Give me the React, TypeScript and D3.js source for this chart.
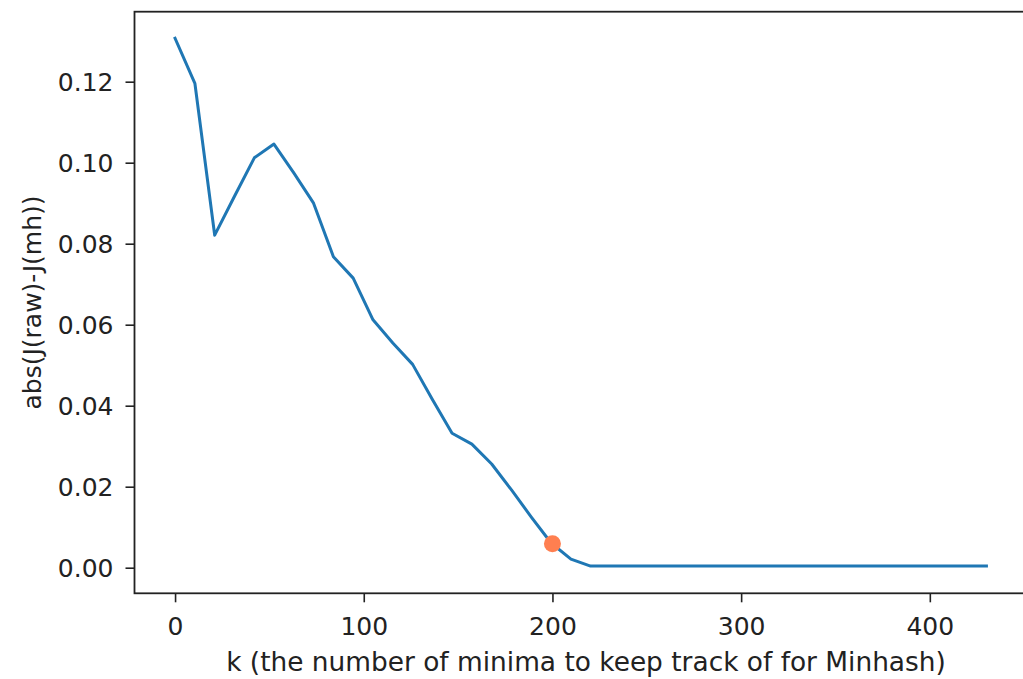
import React, { useEffect, useRef } from 'react';
import * as d3 from 'd3';

// k values (x)
const kValues = [
  0, 10.5, 21, 31.5, 42, 52.4, 63, 73.4, 83.9, 94.4,
  104.9, 115.4, 125.9, 136.3, 146.8, 157.3, 167.8, 178.3, 188.8, 199.3,
  209.8, 220.2, 230.7, 241.2, 251.7, 262.2, 272.7, 283.2, 293.7, 304.1,
  314.6, 325.1, 335.6, 346.1, 356.6, 367.1, 377.6, 388, 398.5, 409,
  419.5, 430,
];

// abs(J(raw)-J(mh)) for each k
const errValues = [
  0.1307, 0.1196, 0.0821, 0.0917, 0.1012, 0.1046, 0.0974, 0.09, 0.0768, 0.0715,
  0.0612, 0.0555, 0.0502, 0.0416, 0.0332, 0.0305, 0.0256, 0.0192, 0.0125, 0.0061,
  0.0021, 0.0004, 0.0004, 0.0004, 0.0004, 0.0004, 0.0004, 0.0004, 0.0004, 0.0004,
  0.0004, 0.0004, 0.0004, 0.0004, 0.0004, 0.0004, 0.0004, 0.0004, 0.0004, 0.0004,
  0.0004, 0.0004,
];

// highlighted point
const markK = [200];
const markErr = [0.0059];

const xTicks = [0, 100, 200, 300, 400];
const yTicks = [0, 0.02, 0.04, 0.06, 0.08, 0.1, 0.12];

const xLabel = 'k (the number of minima to keep track of for Minhash)';
const yLabel = 'abs(J(raw)-J(mh))';

export default function App() {
  const ref = useRef<SVGSVGElement>(null);
  const width = 1023;
  const height = 679;

  useEffect(() => {
    const svg = d3.select(ref.current);
    svg.html('');

    const left = 134.5, top = 11.7, right = 1027, bottom = 593.3;
    const font = '"DejaVu Sans", sans-serif';

    const x = d3.scaleLinear().domain([-21.5, 451.5]).range([left, right]);
    const y = d3.scaleLinear().domain([-0.00632, 0.13728]).range([bottom, top]);

    const line = d3.line<number>()
      .x((d, i) => x(kValues[i]))
      .y((d) => y(d));

    svg.append('path')
      .datum(errValues)
      .attr('d', line)
      .attr('fill', 'none')
      .attr('stroke', '#1f77b4')
      .attr('stroke-width', 3)
      .attr('stroke-linejoin', 'round')
      .attr('stroke-linecap', 'square');

    svg.selectAll('circle.mark')
      .data(markK)
      .enter().append('circle')
      .attr('class', 'mark')
      .attr('cx', (d) => x(d))
      .attr('cy', (d, i) => y(markErr[i]))
      .attr('r', 8.5)
      .attr('fill', '#ff7f50');

    const gx = svg.append('g')
      .attr('transform', `translate(0,${bottom})`)
      .call(d3.axisBottom(x).tickValues(xTicks).tickFormat(d3.format('d')).tickSize(9).tickPadding(15).tickSizeOuter(0));
    const gy = svg.append('g')
      .attr('transform', `translate(${left},0)`)
      .call(d3.axisLeft(y).tickValues(yTicks).tickFormat(d3.format('.2f')).tickSize(9).tickPadding(12).tickSizeOuter(0));

    [gx, gy].forEach((g) => {
      g.select('.domain').remove();
      g.selectAll('line').attr('stroke', '#222').attr('stroke-width', 1.6);
      g.selectAll('text')
        .attr('fill', '#222')
        .style('font-family', font)
        .style('font-size', '25px');
    });
    gy.selectAll('text').attr('dy', '0.37em');

    // spines
    svg.append('rect')
      .attr('x', left)
      .attr('y', top)
      .attr('width', right - left)
      .attr('height', bottom - top)
      .attr('fill', 'none')
      .attr('stroke', '#222')
      .attr('stroke-width', 1.8);

    svg.append('text')
      .attr('x', 586)
      .attr('y', 671)
      .attr('text-anchor', 'middle')
      .attr('fill', '#222')
      .style('font-family', font)
      .style('font-size', '26.4px')
      .text(xLabel);

    svg.append('text')
      .attr('transform', `translate(41,${(top + bottom) / 2}) rotate(-90)`)
      .attr('text-anchor', 'middle')
      .attr('fill', '#222')
      .style('font-family', font)
      .style('font-size', '25px')
      .text(yLabel);
  }, []);

  return (
    <div style={{ position: 'absolute', left: 0, top: 0, background: '#fff' }}>
      <svg ref={ref} width={width} height={height} style={{ display: 'block' }} />
    </div>
  );
}
